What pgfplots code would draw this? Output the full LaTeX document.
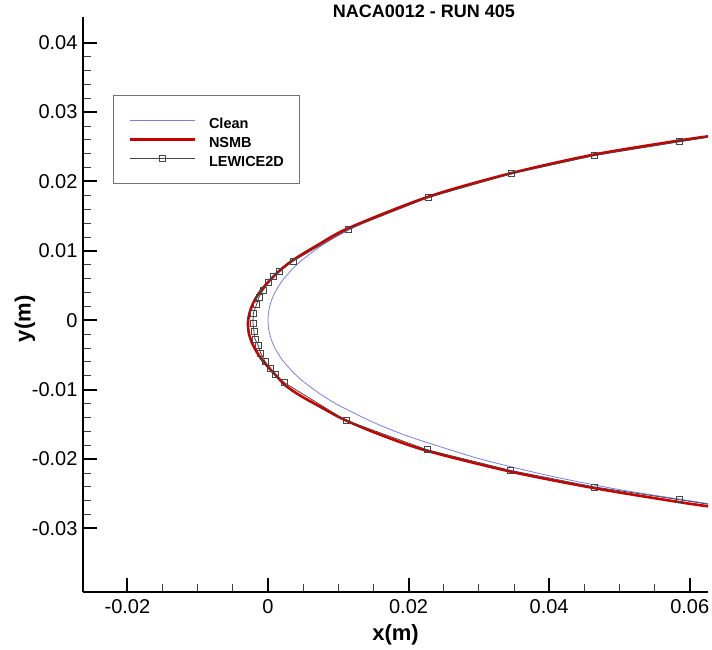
\documentclass[border=0pt]{standalone}
\usepackage{fontspec}
\setmainfont{Liberation Sans}
\usepackage{pgfplots}
\pgfplotsset{compat=1.18}
\definecolor{cleanblue}{RGB}{125,125,232}
\definecolor{nsmbred}{RGB}{200,0,0}
\definecolor{lewgray}{RGB}{70,70,70}
\begin{document}
\begin{tikzpicture}
\useasboundingbox (-83pt,-58pt) rectangle (629pt,592pt);
\begin{axis}[
  at={(0,0)}, anchor=south west,
  scale only axis, width=625pt, height=575pt,
  xmin=-0.02632, xmax=0.0626, ymin=-0.03915, ymax=0.0437,
  axis lines=left,
  axis line style={-, line width=2.5pt},
  tick align=inside,
  scaled x ticks=false, scaled y ticks=false,
  xtick={-0.02,0,0.02,0.04,0.06},
  xticklabels={-0.02,0,0.02,0.04,0.06},
  ytick={-0.03,-0.02,-0.01,0,0.01,0.02,0.03,0.04},
  yticklabels={-0.03,-0.02,-0.01,0,0.01,0.02,0.03,0.04},
  minor x tick num=3, minor y tick num=4,
  major tick length=14pt, minor tick length=8pt,
  every major tick/.append style={line width=2pt, black},
  every minor tick/.append style={line width=0.9pt, black!75},
  ticklabel style={font=\fontsize{20}{24}\selectfont},
  yticklabel style={xshift=-2pt},
  xticklabel style={yshift=-4pt},
  xlabel={x(m)}, ylabel={y(m)},
  xlabel style={font=\bfseries\fontsize{22}{26}\selectfont, at={(axis description cs:0.5,0)}, anchor=center, yshift=-43pt},
  ylabel style={font=\bfseries\fontsize{22}{26}\selectfont, at={(axis description cs:-0.0928,0.475)}, anchor=center},
  title={NACA0012 - RUN 405},
  title style={font=\bfseries\fontsize{18}{21}\selectfont, at={(axis description cs:0.5456,1)}, anchor=center},
  legend cell align=left,
  legend style={at={(axis description cs:0.048,0.864)}, anchor=north west,
    draw=black!55, line width=0.8pt, fill=white,
    inner xsep=15pt, inner ysep=15.5pt, row sep=0pt,
    font=\bfseries\fontsize{14.5}{17}\selectfont,
    nodes={inner sep=0pt, text height=17pt, text depth=2pt},
    /tikz/every odd column/.append style={column sep=13pt}},
  legend image code/.code={\draw[mark repeat=2,mark phase=2,#1] plot coordinates {(0pt,0pt) (32.5pt,0pt) (65pt,0pt)};},
]
% Clean NACA0012 (chord 0.5334 m)
\addplot[cleanblue, line width=0.8pt, smooth, tension=0.4] coordinates {
(0.0626,0.02641) (0.05,0.02440) (0.04,0.02240) (0.03,0.01993) (0.02,0.01673)
(0.015,0.01471) (0.01,0.01222) (0.0075,0.01068) (0.005,0.00881) (0.0035,0.00743)
(0.002,0.00567) (0.001,0.00404) (0.0005,0.00287) (0.0002,0.00183) (0.00005,0.00092)
(0,0) (0.00005,-0.00092) (0.0002,-0.00183) (0.0005,-0.00287) (0.001,-0.00404)
(0.002,-0.00567) (0.0035,-0.00743) (0.005,-0.00881) (0.0075,-0.01068) (0.01,-0.01222)
(0.015,-0.01471) (0.02,-0.01673) (0.03,-0.01993) (0.04,-0.02240) (0.05,-0.02440)
(0.0626,-0.02641)
};
\addlegendentry{Clean}
% NSMB ice shape
\addplot[nsmbred, line width=2.6pt, smooth, tension=0.5] coordinates {
(0.0626,0.0265) (0.0585,0.0259) (0.0465,0.0239) (0.0346,0.0212) (0.0228,0.0178)
(0.0115,0.0133) (0.0070,0.0108) (0.0036,0.0087) (0.0017,0.0072) (0.0002,0.0057)
(-0.0010,0.0043) (-0.0019,0.0029) (-0.0025,0.0015) (-0.0028,0.0002) (-0.00285,-0.0008)
(-0.0027,-0.0020) (-0.0023,-0.0032) (-0.0017,-0.0044) (-0.0010,-0.0055) (-0.0001,-0.0066)
(0.0010,-0.0078) (0.0025,-0.0094) (0.0045,-0.0108) (0.0075,-0.0125) (0.0108,-0.0143)
(0.0160,-0.0165) (0.0226,-0.0188) (0.0345,-0.0218) (0.0465,-0.0242) (0.0585,-0.0262) (0.0626,-0.0268)
};
\addlegendentry{NSMB}
% LEWICE2D ice shape
\addplot[lewgray, line width=0.8pt, mark=square, mark size=3pt, mark options={solid, line width=0.7pt, lewgray}] coordinates {
(0.0585,0.02571) (0.04647,0.02374) (0.0346,0.0211) (0.0228,0.01769) (0.01146,0.01314)
(0.00356,0.00853) (0.00167,0.00703) (0.00081,0.00631) (0.00006,0.00544) (-0.00071,0.00429)
(-0.00128,0.00334) (-0.00165,0.00223) (-0.00208,0.00104) (-0.00214,-0.0004) (-0.0020,-0.00161)
(-0.00185,-0.00271) (-0.00137,-0.00367) (-0.00104,-0.00472) (-0.00043,-0.00593) (0.00029,-0.00688)
(0.0011,-0.00785) (0.00228,-0.00896) (0.01108,-0.01443) (0.02262,-0.01865) (0.0345,-0.02163)
(0.04647,-0.02402) (0.0585,-0.02585)
};
\addlegendentry{LEWICE2D}
\addplot[lewgray, line width=0.8pt, forget plot] coordinates {(0.0585,0.02571) (0.0626,0.02636)};
\addplot[lewgray, line width=0.8pt, forget plot] coordinates {(0.0585,-0.02585) (0.0626,-0.02650)};
\end{axis}
\end{tikzpicture}
\end{document}
